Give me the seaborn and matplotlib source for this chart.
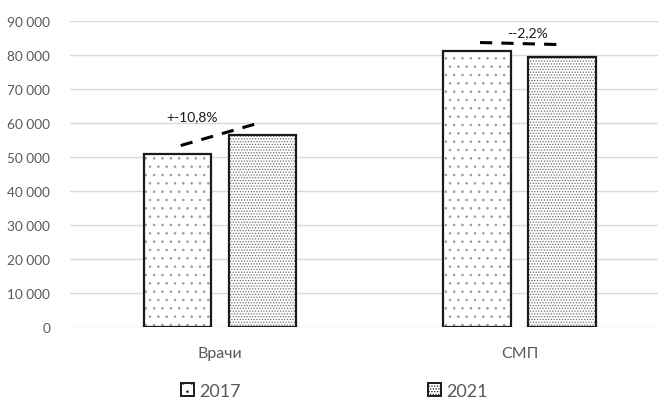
import matplotlib
matplotlib.use("Agg")
import matplotlib.pyplot as plt
from matplotlib.patches import Rectangle, Patch
from matplotlib.ticker import FuncFormatter
import seaborn as sns
import pandas as pd

# Data
categories = ["Врачи", "СМП"]
years = ["2017", "2021"]
values_2017 = [51000, 81300]
values_2021 = [56500, 79500]
change_labels = ["+-10,8%", "--2,2%"]
label_dx = [-0.095, 0.027]
label_dy = [1800, 3100]

sns.set_theme(style="white")
plt.rcParams["font.family"] = ["Lato", "DejaVu Sans"]
plt.rcParams["hatch.linewidth"] = 0.6

df = pd.DataFrame({
    "category": categories * 2,
    "year": [years[0]] * 2 + [years[1]] * 2,
    "value": values_2017 + values_2021,
})

fig = plt.figure(figsize=(6.58, 4.02), dpi=100)
ax = fig.add_axes([0.106, 0.184, 0.894, 0.761])

hatches = {"2017": "..", "2021": "......"}
hatch_edge = {"2017": "#9a9a9a", "2021": "#6e6e6e"}

sns.barplot(data=df, x="category", y="value", hue="year", hue_order=years,
            order=categories, palette=["white", "white"], width=0.568, gap=0.21,
            edgecolor="#999999", linewidth=0, legend=False, ax=ax)

# Apply fill patterns, then draw crisp black outlines over them
containers = ax.containers
for yr, cont in zip(years, containers):
    for p in cont.patches:
        p.set_hatch(hatches[yr])
        p.set_edgecolor(hatch_edge[yr])
        p.set_linewidth(0)
        ax.add_patch(Rectangle(p.get_xy(), p.get_width(), p.get_height(),
                               fill=False, edgecolor="#1a1a1a", linewidth=1.6,
                               zorder=3))

# Dashed change lines with percentage labels
for i, (cat, lab) in enumerate(zip(categories, change_labels)):
    p1 = containers[0].patches[i]
    p2 = containers[1].patches[i]
    x1 = p1.get_x() + p1.get_width() / 2 + 0.01
    x2 = p2.get_x() + p2.get_width() / 2 - 0.01
    y1 = p1.get_height() + 2400
    y2 = p2.get_height() + 3600
    ax.plot([x1, x2], [y1, y2], color="black", linestyle=(0, (4, 3)),
            linewidth=2.2, zorder=4)
    ax.text(i + label_dx[i], max(y1, y2) + label_dy[i], lab, ha="center",
            va="center", fontsize=10, color="#1a1a1a")

ax.set_xlim(-0.503, 1.463)
ax.set_ylim(0, 90000)
ax.set_yticks(range(0, 90001, 10000))
ax.yaxis.set_major_formatter(FuncFormatter(
    lambda v, _: f"{int(v):,}".replace(",", " ")))
ax.yaxis.grid(True, color="#d9d9d9", linewidth=1)
ax.set_axisbelow(True)
for s in ax.spines.values():
    s.set_visible(False)
ax.tick_params(axis="y", length=0, pad=14, labelsize=9.8, labelcolor="#595959")
ax.tick_params(axis="x", length=0, pad=14, labelsize=11.5, labelcolor="#595959")
ax.set_xlabel("")
ax.set_ylabel("")

handles = [Patch(facecolor="white", edgecolor="#1a1a1a", hatch=hatches[y],
                 linewidth=1.4, label=y) for y in years]
fig.legend(handles=handles, loc="center", bbox_to_anchor=(0.508, 0.025),
           ncol=2, frameon=False, fontsize=13, handlelength=0.72,
           handleheight=0.72, handletextpad=0.25, columnspacing=10.4,
           borderpad=0, labelcolor="#595959")

fig.savefig("out.png", dpi=100)
